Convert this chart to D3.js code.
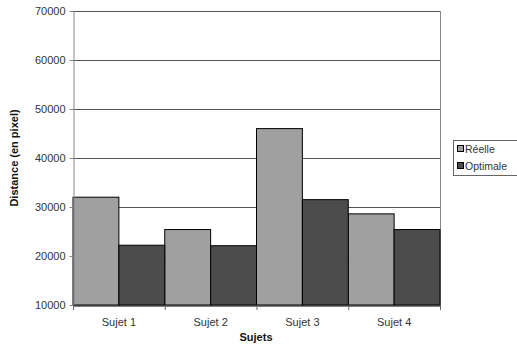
<!DOCTYPE html>
<html><head><meta charset="utf-8">
<script src="https://cdn.jsdelivr.net/npm/d3@7"></script>
<style>body{margin:0;background:#fff}svg{display:block;font-family:"Liberation Sans",Arial,sans-serif}</style>
</head><body>
<svg id="c" width="517" height="347"></svg>
<script>
const categories = ["Sujet 1","Sujet 2","Sujet 3","Sujet 4"];
const series = ["Réelle","Optimale"];
const reelle = [32000, 25400, 46000, 28600];
const optimale = [22200, 22100, 31500, 25400];
const yTicks = [10000,20000,30000,40000,50000,60000,70000];
const colors = ["#a0a0a0","#4c4c4c"];

const svg = d3.select("#c");
const L=73, R=440, T=11, B=305;
const x = d3.scaleBand().domain(categories).range([L,R]).padding(0);
const xs = d3.scaleBand().domain(series).range([0,x.bandwidth()]).padding(0);
const y = d3.scaleLinear().domain([10000,70000]).range([B,T]);

// gridlines
svg.append("g").selectAll("line").data(yTicks.slice(1)).join("line")
  .attr("x1",L).attr("x2",R).attr("y1",d=>y(d)+0.5).attr("y2",d=>y(d)+0.5)
  .attr("stroke","#555").attr("stroke-width",1);
// right border
svg.append("line").attr("x1",R+0.5).attr("x2",R+0.5).attr("y1",T).attr("y2",B).attr("stroke","#888");

const vals = [reelle, optimale];
const g = svg.append("g");
series.forEach((s,si)=>{
  g.selectAll(null).data(categories).join("rect")
    .attr("x",c=>x(c)+xs(s))
    .attr("y",(c,i)=>y(vals[si][i]))
    .attr("width",xs.bandwidth())
    .attr("height",(c,i)=>B-y(vals[si][i]))
    .attr("fill",colors[si]).attr("stroke","#000").attr("stroke-width",1);
});

// y axis
const ya = svg.append("g").attr("transform",`translate(${L+0.5},0)`)
  .call(d3.axisLeft(y).tickValues(yTicks).tickSize(4).tickSizeOuter(0).tickFormat(d3.format("d")));
ya.select(".domain").attr("stroke","#888");
ya.selectAll(".tick line").attr("stroke","#888");
ya.selectAll("text").attr("font-size","11px").attr("fill","#333").attr("font-family","Liberation Sans, Arial, sans-serif").attr("x",-8);

// x axis
const xa = svg.append("g").attr("transform",`translate(0,${B+0.5})`)
  .call(d3.axisBottom(x).tickSize(0).tickSizeOuter(0));
xa.select(".domain").attr("stroke","#000");
xa.selectAll("text").attr("font-size","11px").attr("fill","#333").attr("font-family","Liberation Sans, Arial, sans-serif").attr("dy","1.6em");
// category boundary ticks
svg.append("g").selectAll("line").data(categories.concat([null])).join("line")
  .attr("x1",(d,i)=>(d?x(d):R)+0.5).attr("x2",(d,i)=>(d?x(d):R)+0.5)
  .attr("y1",B).attr("y2",B+5).attr("stroke","#666");

// axis titles
svg.append("text").attr("x",256).attr("y",341).attr("text-anchor","middle")
  .attr("font-size","11px").attr("font-weight","bold").attr("fill","#111").text("Sujets");
svg.append("text").attr("transform","translate(18,158) rotate(-90)").attr("text-anchor","middle")
  .attr("font-size","11px").attr("font-weight","bold").attr("fill","#111").text("Distance (en pixel)");

// legend
const lg = svg.append("g");
lg.append("rect").attr("x",453.5).attr("y",140.5).attr("width",64).attr("height",35)
  .attr("fill","#fff").attr("stroke","#666");
series.forEach((s,i)=>{
  const yy = 149 + i*17;
  lg.append("rect").attr("x",457.5).attr("y",yy-3.5).attr("width",6).attr("height",6)
    .attr("fill",colors[i]).attr("stroke","#000");
  lg.append("text").attr("x",465).attr("y",yy+4).attr("font-size","10.5px").attr("fill","#333").text(s);
});
</script>
</body></html>
